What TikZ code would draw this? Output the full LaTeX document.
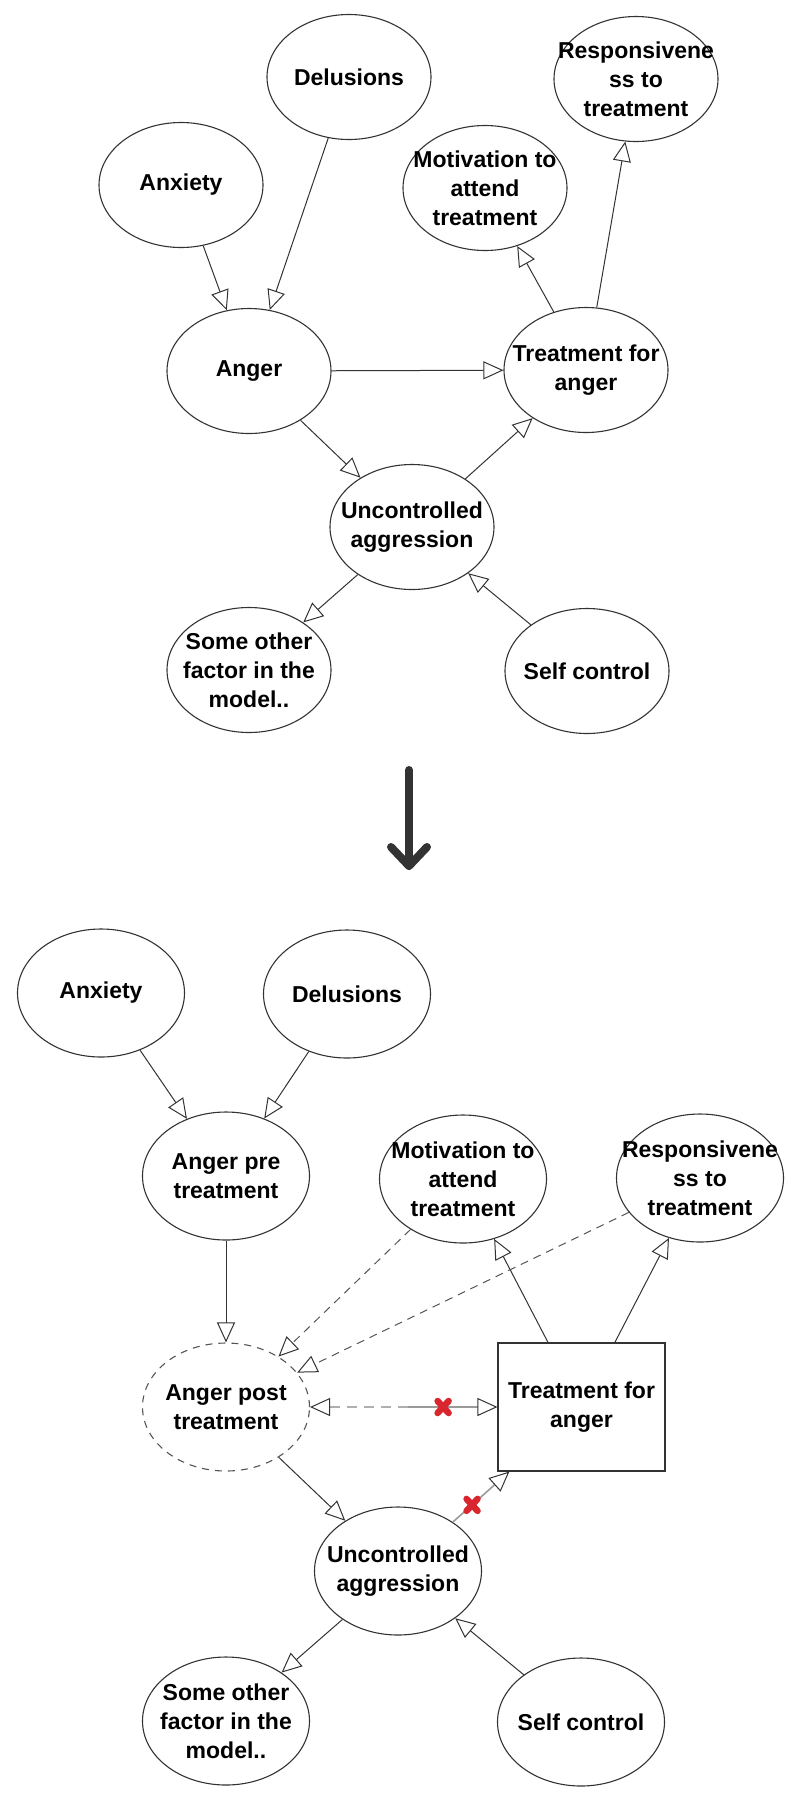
\documentclass[tikz,border=0pt]{standalone}
\usepackage{fontspec}
\setmainfont{Liberation Sans}
\usetikzlibrary{arrows.meta,shapes.geometric,calc}
\definecolor{linec}{HTML}{333333}
\definecolor{dashc}{HTML}{555555}
\definecolor{lgray}{HTML}{AFAFAF}
\definecolor{mgray}{HTML}{9A9A9A}
\definecolor{xred}{HTML}{D9262E}
\definecolor{bigarr}{HTML}{333333}
\begin{document}
\begin{tikzpicture}[x=1pt,y=-1pt,
  ell/.style={ellipse,draw=linec,line width=1.1pt,minimum width=164pt,minimum height=125pt,inner sep=0pt},
  ellb/.style={ell,minimum width=167pt,minimum height=128pt},
  dell/.style={ellb,draw=dashc,dash pattern=on 7pt off 6pt},
  boxn/.style={rectangle,draw=linec,line width=1.1pt,minimum width=167pt,minimum height=128pt,inner sep=0pt},
  lbl/.style={font=\fontsize{23}{29}\selectfont\bfseries,align=center,inner sep=0pt,text=black},
  tri/.style={-{Triangle[length=20pt,width=18pt,fill=white,color=linec,line width=1pt]}},
  conn/.style={draw=linec,line width=1pt,tri},
  dconn/.style={draw=dashc,line width=1pt,dash pattern=on 8pt off 6pt,tri},
  gdash/.style={draw=lgray,line width=2.2pt,dash pattern=on 10pt off 7pt,tri},
  gsolid/.style={draw=mgray,line width=2.2pt,tri},
  gsolidthin/.style={draw=mgray,line width=1.6pt,tri},
  redx/.style={draw=xred,line width=6.5pt,line cap=round},
  bigline/.style={draw=bigarr,line width=8pt,line cap=round,line join=round}
]
\useasboundingbox (0,0) rectangle (800,1800);

% ---------- top model ----------
\node[ell] (t_del) at (349,77) {};
\node[ell] (t_resp) at (636,79) {};
\node[ell] (t_anx) at (181,185) {};
\node[ell] (t_mot) at (485,188) {};
\node[ell] (t_anger) at (249,371) {};
\node[ell] (t_treat) at (586,370) {};
\node[ell] (t_unc) at (412,527) {};
\node[ell] (t_other) at (249,670) {};
\node[ell] (t_self) at (587,671) {};

\node[lbl] (t_del_l) at (t_del) {Delusions};
\node[lbl] (t_resp_l) at (t_resp) {Responsivene\\ss to\\treatment};
\node[lbl] (t_anx_l) at (t_anx) {Anxiety};
\node[lbl] (t_mot_l) at (t_mot) {Motivation to\\attend\\treatment};
\node[lbl] (t_anger_l) at (t_anger) {Anger};
\node[lbl] (t_treat_l) at (t_treat) {Treatment for\\anger};
\node[lbl] (t_unc_l) at (t_unc) {Uncontrolled\\aggression};
\node[lbl] (t_other_l) at (t_other) {Some other\\factor in the\\model..};
\node[lbl] (t_self_l) at (t_self) {Self control};

\draw[conn] (t_anx) -- (t_anger);
\draw[conn] (t_del) -- (t_anger);
\draw[conn] (t_anger) -- (t_treat);
\draw[conn] (t_treat) -- (t_mot);
\draw[conn] (t_treat) -- (t_resp);
\draw[conn] (t_anger) -- (t_unc);
\draw[conn] (t_unc) -- (t_treat);
\draw[conn] (t_unc) -- (t_other);
\draw[conn] (t_self) -- (t_unc);

% ---------- big arrow ----------
\coordinate (ba_top) at (409,770);
\coordinate (ba_tip) at (409,866);
\coordinate (ba_l) at (391,847);
\coordinate (ba_r) at (427,847);
\draw[bigline] (ba_top) -- (ba_tip);
\draw[bigline] (ba_l) -- (ba_tip) -- (ba_r);

% ---------- bottom model ----------
\node[ellb] (b_anx) at (101,993) {};
\node[ellb] (b_del) at (347,994) {};
\node[ellb] (b_pre) at (226,1176) {};
\node[ellb] (b_mot) at (463,1179) {};
\node[ellb] (b_resp) at (700,1178) {};
\node[dell] (b_post) at (226,1407) {};
\node[boxn] (b_treat) at (581.5,1407) {};
\node[ellb] (b_unc) at (398,1571) {};
\node[ellb] (b_other) at (226,1721) {};
\node[ellb] (b_self) at (581,1722) {};

\node[lbl] (b_anx_l) at (b_anx) {Anxiety};
\node[lbl] (b_del_l) at (b_del) {Delusions};
\node[lbl] (b_pre_l) at (b_pre) {Anger pre\\treatment};
\node[lbl] (b_mot_l) at (b_mot) {Motivation to\\attend\\treatment};
\node[lbl] (b_resp_l) at (b_resp) {Responsivene\\ss to\\treatment};
\node[lbl] (b_post_l) at (b_post) {Anger post\\treatment};
\node[lbl] (b_treat_l) at (b_treat) {Treatment for\\anger};
\node[lbl] (b_unc_l) at (b_unc) {Uncontrolled\\aggression};
\node[lbl] (b_other_l) at (b_other) {Some other\\factor in the\\model..};
\node[lbl] (b_self_l) at (b_self) {Self control};

\draw[conn] (b_anx) -- (b_pre);
\draw[conn] (b_del) -- (b_pre);
\draw[conn] (b_pre) -- (b_post);
\draw[conn] (b_treat) -- (b_mot);
\draw[conn] (b_treat) -- (b_resp);
\draw[conn] (b_post) -- (b_unc);
\draw[conn] (b_unc) -- (b_other);
\draw[conn] (b_self) -- (b_unc);
\draw[dconn] (b_mot) -- (b_post);
\draw[dconn] (b_resp) -- (b_post);

\path (b_post) -- (b_treat) coordinate[pos=0.52] (split) coordinate[pos=0.71] (xa);
\draw[gdash] (split) -- (b_post);
\draw[gsolid] (split) -- (b_treat);
\draw[gsolidthin] (b_unc) -- (b_treat) coordinate[pos=0.34] (xb);

\draw[redx] ($(xa)+(-5.5,-6)$) -- ($(xa)+(5.5,6)$);
\draw[redx] ($(xa)+(-5.5,6)$) -- ($(xa)+(5.5,-6)$);
\draw[redx] ($(xb)+(-5.5,-6)$) -- ($(xb)+(5.5,6)$);
\draw[redx] ($(xb)+(-5.5,6)$) -- ($(xb)+(5.5,-6)$);
\end{tikzpicture}
\end{document}
